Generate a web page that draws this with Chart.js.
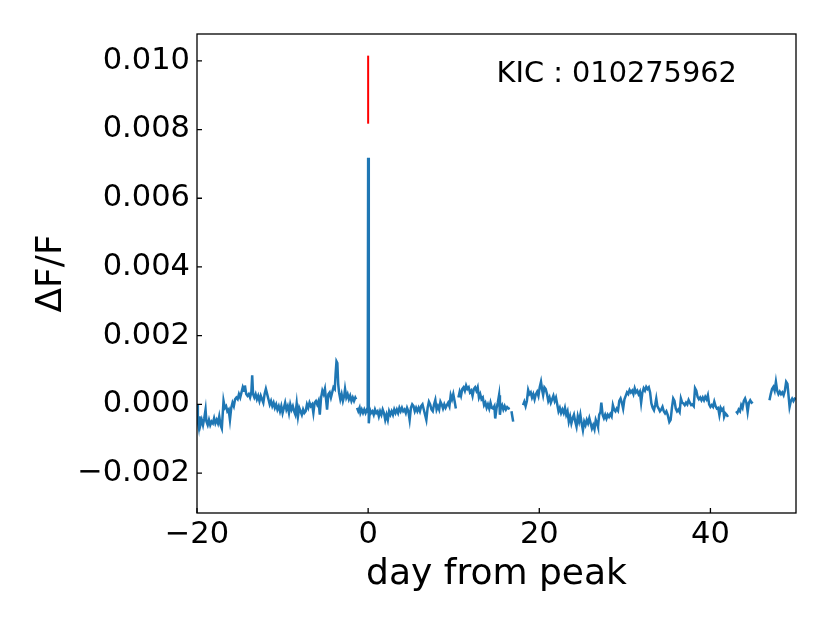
<!DOCTYPE html>
<html lang="en">
<head>
    <meta charset="UTF-8">
    <title>KIC 010275962 light curve</title>
    <script src="https://cdn.jsdelivr.net/npm/chart.js@4.4.1/dist/chart.umd.min.js"></script>
    <style>
        html, body { margin: 0; padding: 0; background: #fff; }
        #wrap { width: 830px; height: 623px; }
    </style>
</head>
<body>
    <div id="wrap"><canvas id="lc" width="830" height="623"></canvas></div>

    <script>
        // flux values are ΔF/F in units of 1e-3, days are relative to the flare peak
        const kicLabel = 'KIC : 010275962';
        const xTicks = [-20, 0, 20, 40];
        const yTicks = [-2, 0, 2, 4, 6, 8, 10];   // x 1e-3
        const peakMarker = [[0, 8.17], [0, 10.15]];

        // light curve, split where the data has gaps
        const segA = [[-20.0,0.0],[-19.9,-0.5],[-19.8,-0.65],[-19.7,-0.35],[-19.6,-0.6],[-19.45,-0.45],[-19.3,-0.6],[-19.15,-0.4],[-19.0,-0.15],[-18.9,-0.5],[-18.75,-0.6],[-18.6,-0.45],[-18.45,-0.6],[-18.3,-0.5],[-18.15,-0.55],[-18.0,-0.4],[-17.85,-0.55],[-17.7,-0.45],[-17.55,-0.55],[-17.4,-0.35],[-17.25,-0.6],[-17.1,-0.7],[-17.0,-0.3],[-16.9,0.1],[-16.75,-0.1],[-16.6,-0.05],[-16.45,-0.2],[-16.3,-0.15],[-16.15,-0.45],[-16.0,-0.1],[-15.85,0.05],[-15.7,-0.05],[-15.55,0.15],[-15.4,0.2],[-15.25,0.15],[-15.1,0.3],[-14.95,0.2],[-14.8,0.35],[-14.65,0.5],[-14.5,0.4],[-14.4,0.55],[-14.25,0.3],[-14.1,0.25],[-13.95,0.3],[-13.8,0.2],[-13.65,0.35],[-13.55,0.85],[-13.45,0.3],[-13.3,0.2],[-13.15,0.3],[-13.0,0.15],[-12.85,0.25],[-12.7,0.1],[-12.55,0.25],[-12.4,0.15],[-12.25,0.05],[-12.1,0.3],[-11.95,0.45],[-11.8,0.3],[-11.65,0.15],[-11.5,0.0],[-11.35,0.1],[-11.2,-0.05],[-11.05,0.05],[-10.9,-0.1],[-10.75,0.0],[-10.6,-0.15],[-10.45,-0.05],[-10.3,-0.2],[-10.15,-0.05],[-10.0,-0.25],[-9.85,-0.1],[-9.7,0.05],[-9.55,-0.15],[-9.4,-0.05],[-9.25,-0.25],[-9.1,0.0],[-8.95,-0.15],[-8.8,-0.05],[-8.65,-0.2],[-8.5,-0.3],[-8.35,0.03],[-8.2,-0.35],[-8.05,-0.1],[-7.9,-0.2],[-7.75,-0.3],[-7.6,-0.15],[-7.45,-0.25],[-7.3,-0.2],[-7.15,0.0],[-7.0,-0.1],[-6.85,0.05],[-6.7,-0.05],[-6.55,0.0],[-6.4,-0.25],[-6.25,0.05],[-6.1,0.1],[-5.95,0.0],[-5.8,0.1],[-5.65,-0.3],[-5.5,0.2],[-5.35,0.4],[-5.2,0.3],[-5.05,0.45],[-4.9,0.1],[-4.8,-0.15],[-4.65,0.3],[-4.5,0.35],[-4.35,0.2],[-4.2,0.35],[-4.05,0.5],[-3.9,0.45],[-3.8,0.9],[-3.7,1.25],[-3.6,1.2],[-3.5,0.6],[-3.4,0.35],[-3.25,0.15],[-3.1,0.3],[-2.95,0.1],[-2.8,0.25],[-2.7,0.45],[-2.55,0.2],[-2.4,0.3],[-2.25,0.15],[-2.1,0.25],[-1.95,0.1],[-1.8,0.2],[-1.65,0.1],[-1.5,0.2],[-1.4,0.15]];
        const segB = [[-1.3,-0.1],[-1.15,-0.2],[-1.0,-0.1],[-0.9,-0.25],[-0.75,-0.15],[-0.6,-0.25],[-0.45,-0.15],[-0.3,-0.25],[-0.15,-0.15],[-0.05,-0.2],[0.0,7.18],[0.05,1.4],[0.1,-0.55],[0.2,-0.15],[0.35,-0.25],[0.5,-0.2],[0.65,-0.3],[0.8,-0.15],[0.95,-0.25],[1.1,-0.2],[1.25,-0.35],[1.4,-0.2],[1.55,-0.3],[1.7,-0.15],[1.85,-0.25],[2.0,-0.45],[2.15,-0.3],[2.3,-0.45],[2.45,-0.2],[2.6,-0.3],[2.75,-0.2],[2.9,-0.3],[3.05,-0.15],[3.2,-0.25],[3.35,-0.15],[3.5,-0.25],[3.65,-0.1],[3.8,-0.2],[3.95,-0.1],[4.1,-0.2],[4.25,-0.15],[4.4,-0.25],[4.55,-0.1],[4.7,-0.2],[4.85,-0.45],[5.0,-0.1],[5.15,0.0],[5.3,-0.05],[5.45,-0.2],[5.6,-0.1],[5.75,-0.2],[5.9,-0.1],[6.05,-0.2],[6.2,-0.05],[6.35,0.0],[6.5,-0.15],[6.65,-0.3],[6.8,-0.45],[6.95,-0.1],[7.1,0.08],[7.25,0.0],[7.4,-0.15],[7.55,-0.2],[7.7,0.0],[7.85,0.13],[8.0,-0.15],[8.15,-0.05],[8.3,-0.15],[8.45,0.08],[8.6,0.0],[8.75,-0.12],[8.9,0.0],[9.05,-0.1],[9.2,-0.02],[9.35,0.05],[9.5,-0.05],[9.65,0.27],[9.8,0.15],[9.95,0.3],[10.1,0.1],[10.25,-0.12]];
        const segC = [[10.55,0.2],[10.7,0.37],[10.85,0.25],[11.0,0.45],[11.15,0.5],[11.3,0.4],[11.45,0.55],[11.6,0.45],[11.75,0.5],[11.9,0.35],[12.05,0.4],[12.2,0.25],[12.35,0.45],[12.5,0.5],[12.65,0.4],[12.8,0.5],[12.95,0.2],[13.1,0.3],[13.25,0.15],[13.4,0.2],[13.55,-0.02],[13.7,0.05],[13.85,-0.1],[14.0,0.0],[14.15,-0.12],[14.3,0.05],[14.45,-0.1],[14.6,-0.12],[14.75,-0.05],[14.85,-0.41],[15.0,-0.12],[15.15,0.05],[15.3,0.27],[15.4,-0.3],[15.5,-0.1],[15.65,-0.02],[15.8,-0.15],[15.95,-0.05],[16.1,-0.15],[16.25,-0.08],[16.4,-0.12],[16.55,-0.1]];
        const segD = [[16.75,-0.2],[16.85,-0.35],[16.95,-0.5]];
        const segE = [[18.1,-0.02],[18.25,0.08],[18.4,-0.05],[18.55,0.1],[18.7,0.42],[18.85,0.3],[19.0,0.35],[19.15,0.2],[19.3,0.3],[19.45,0.15],[19.6,0.3],[19.75,0.37],[19.9,0.25],[20.05,0.5],[20.2,0.66],[20.35,0.4],[20.45,0.27],[20.6,0.5],[20.75,0.45],[20.9,0.3],[21.05,0.1],[21.2,0.2],[21.35,0.05],[21.5,0.15],[21.65,0.25],[21.8,0.1],[21.95,0.2],[22.1,0.0],[22.25,-0.2],[22.4,-0.1],[22.55,-0.25],[22.7,-0.15],[22.85,-0.25],[23.0,-0.1],[23.15,-0.3],[23.3,-0.2],[23.45,-0.5],[23.6,-0.35],[23.75,-0.55],[23.9,-0.4],[24.05,-0.3],[24.2,-0.5],[24.35,-0.65],[24.5,-0.35],[24.65,-0.5],[24.8,-0.3],[24.95,-0.55],[25.1,-0.75],[25.25,-0.5],[25.4,-0.6],[25.55,-0.45],[25.7,-0.55],[25.85,-0.4],[26.0,-0.55],[26.15,-0.7],[26.3,-0.6],[26.45,-0.72],[26.6,-0.45],[26.75,-0.55],[26.86,-0.65],[27.0,-0.3],[27.15,-0.22],[27.25,0.05],[27.4,-0.3],[27.55,-0.4],[27.7,-0.3],[27.85,-0.41],[28.0,-0.3],[28.15,-0.36],[28.3,-0.28],[28.45,-0.35],[28.6,-0.02],[28.75,-0.15],[28.9,-0.2],[29.05,-0.12],[29.2,-0.18],[29.35,0.1],[29.5,0.17],[29.65,0.05],[29.8,-0.12],[29.95,0.15],[30.1,0.25],[30.25,0.35],[30.4,0.3],[30.55,0.42],[30.7,0.35],[30.85,0.4],[31.0,0.3],[31.15,0.47],[31.3,0.35],[31.45,0.4],[31.6,0.3],[31.75,0.37],[31.9,0.05],[32.05,0.35],[32.2,0.47],[32.35,0.4],[32.5,0.51],[32.65,0.45],[32.8,0.5],[32.95,0.35],[33.1,0.03],[33.25,-0.1],[33.4,-0.17],[33.55,0.0],[33.67,0.17],[33.8,-0.05],[33.95,-0.12],[34.1,-0.2],[34.25,-0.15],[34.4,-0.07],[34.55,-0.2],[34.7,-0.26],[34.85,-0.2],[35.0,-0.3],[35.2,-0.51],[35.35,-0.45],[35.5,-0.1],[35.65,0.17],[35.8,0.1],[35.95,-0.12],[36.1,-0.2],[36.25,-0.15],[36.4,-0.22],[36.55,0.17],[36.7,0.05],[36.85,0.03],[37.0,-0.02],[37.15,0.05],[37.3,0.0],[37.45,0.13],[37.6,0.05],[37.75,-0.02],[37.9,0.0],[38.05,-0.05],[38.2,0.47],[38.35,0.4],[38.5,0.22],[38.65,0.15],[38.8,0.2],[38.95,0.12],[39.1,0.2],[39.25,0.12],[39.4,0.22],[39.55,0.15],[39.7,0.27],[39.85,0.0],[40.0,-0.07],[40.15,-0.02],[40.3,-0.07],[40.45,0.08],[40.6,-0.05],[40.75,-0.12],[40.9,-0.1],[41.05,-0.31],[41.2,-0.1],[41.35,-0.17],[41.5,-0.12],[41.6,-0.36],[41.75,-0.26],[41.9,-0.3],[42.05,-0.36]];
        const segF = [[43.0,-0.2],[43.15,-0.25],[43.3,-0.15],[43.45,-0.2],[43.6,-0.02],[43.75,-0.1],[43.9,0.1],[44.05,0.17],[44.2,0.05],[44.35,-0.22],[44.5,0.05],[44.65,0.12],[44.8,0.05],[44.95,0.08]];
        const segG = [[46.9,0.12],[47.05,0.3],[47.2,0.45],[47.35,0.51],[47.5,0.4],[47.65,0.66],[47.8,0.4],[47.95,0.3],[48.1,0.37],[48.25,0.3],[48.4,0.35],[48.55,0.27],[48.7,0.4],[48.85,0.66],[49.0,0.6],[49.15,0.2],[49.25,-0.07],[49.4,0.1],[49.55,0.17],[49.7,0.1],[49.85,0.17],[50.0,0.15]];

        const segments = [segA, segB, segC, segD, segE, segF, segG];
        const FONT = '"DejaVu Sans", "Liberation Sans", sans-serif';
        const minus = s => String(s).replace('-', '\u2212');

        const toXY = arr => arr.map(p => ({ x: p[0], y: p[1] }));

        const datasets = segments.map(seg => ({
            data: toXY(seg),
            borderColor: '#1f77b4',
            borderWidth: 2.5,
            pointRadius: 0,
            tension: 0,
            fill: false
        }));
        datasets.push({
            data: toXY(peakMarker),
            borderColor: '#ff0000',
            borderWidth: 2,
            pointRadius: 0,
            fill: false
        });

        // matplotlib style box, inward ticks and the KIC label
        const framePlugin = {
            id: 'frame',
            afterDraw(chart) {
                const { ctx, chartArea: a, scales: { x, y } } = chart;
                ctx.save();
                ctx.strokeStyle = '#000';
                ctx.lineWidth = 1.3;
                ctx.strokeRect(a.left, a.top, a.right - a.left, a.bottom - a.top);
                ctx.beginPath();
                x.ticks.forEach(t => {
                    const px = x.getPixelForValue(t.value);
                    ctx.moveTo(px, a.bottom);
                    ctx.lineTo(px, a.bottom - 5);
                });
                y.ticks.forEach(t => {
                    const py = y.getPixelForValue(t.value);
                    ctx.moveTo(a.left, py);
                    ctx.lineTo(a.left + 5, py);
                });
                ctx.stroke();

                ctx.fillStyle = '#000';
                ctx.font = '28.8px ' + FONT;
                ctx.textAlign = 'left';
                ctx.textBaseline = 'alphabetic';
                ctx.fillText(kicLabel, a.left + 0.5 * (a.right - a.left), a.bottom - 0.9 * (a.bottom - a.top));
                ctx.restore();
            }
        };

        new Chart(document.getElementById('lc'), {
            type: 'line',
            data: { datasets },
            options: {
                responsive: false,
                animation: false,
                devicePixelRatio: 1,
                layout: { padding: { top: 34, right: 34, left: 0, bottom: 0 } },
                plugins: { legend: { display: false }, tooltip: { enabled: false } },
                scales: {
                    x: {
                        type: 'linear',
                        min: -20,
                        max: 50,
                        grid: { display: false, drawTicks: false },
                        border: { display: false },
                        afterBuildTicks: s => { s.ticks = xTicks.map(v => ({ value: v })); },
                        afterFit: s => { s.height = 110; },
                        ticks: {
                            padding: 4,
                            color: '#000',
                            font: { family: FONT, size: 30.5 },
                            callback: v => minus(v)
                        },
                        title: {
                            display: true,
                            text: 'day from peak',
                            color: '#000',
                            font: { family: FONT, size: 36 },
                            padding: { top: 0, bottom: 27 }
                        }
                    },
                    y: {
                        type: 'linear',
                        min: -3.16,
                        max: 10.78,
                        grid: { display: false, drawTicks: false },
                        border: { display: false },
                        afterBuildTicks: s => { s.ticks = yTicks.map(v => ({ value: v })); },
                        afterFit: s => { s.width = 197; },
                        ticks: {
                            padding: 7,
                            color: '#000',
                            font: { family: FONT, size: 30.5 },
                            callback: v => minus((v / 1000).toFixed(3))
                        },
                        title: {
                            display: true,
                            text: 'ΔF/F',
                            color: '#000',
                            font: { family: FONT, size: 36 },
                            padding: { top: 30, bottom: 0 }
                        }
                    }
                }
            },
            plugins: [framePlugin]
        });
    </script>
</body>
</html>
